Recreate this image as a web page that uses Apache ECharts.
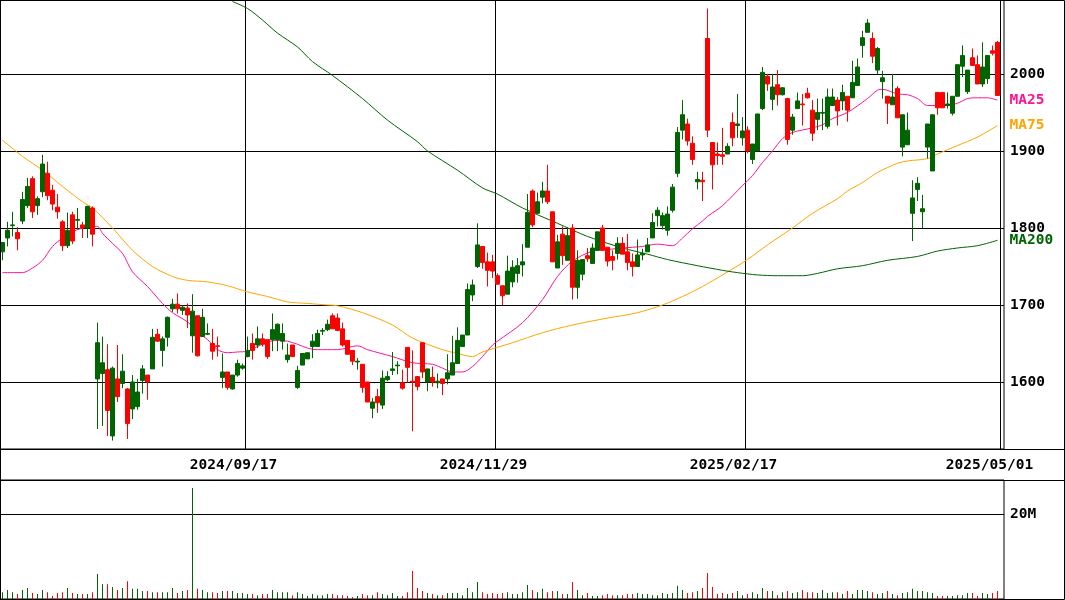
<!DOCTYPE html>
<html>
<head>
<meta charset="utf-8">
<script src="https://cdn.jsdelivr.net/npm/echarts@6/dist/echarts.min.js"></script>
<style>
  html, body { margin: 0; padding: 0; background: #fff; }
  #chart { width: 1065px; height: 600px; }
</style>
</head>
<body>
<div id="chart"></div>
<script>
// Trading days (Tokyo), one per candle
const dates = [
  "2024/07/05","2024/07/08","2024/07/09","2024/07/10","2024/07/11","2024/07/12","2024/07/16","2024/07/17","2024/07/18","2024/07/19",
  "2024/07/22","2024/07/23","2024/07/24","2024/07/25","2024/07/26","2024/07/29","2024/07/30","2024/07/31","2024/08/01","2024/08/02",
  "2024/08/05","2024/08/06","2024/08/07","2024/08/08","2024/08/09","2024/08/13","2024/08/14","2024/08/15","2024/08/16","2024/08/19",
  "2024/08/20","2024/08/21","2024/08/22","2024/08/23","2024/08/26","2024/08/27","2024/08/28","2024/08/29","2024/08/30","2024/09/02",
  "2024/09/03","2024/09/04","2024/09/05","2024/09/06","2024/09/09","2024/09/10","2024/09/11","2024/09/12","2024/09/13","2024/09/17",
  "2024/09/18","2024/09/19","2024/09/20","2024/09/24","2024/09/25","2024/09/26","2024/09/27","2024/09/30","2024/10/01","2024/10/02",
  "2024/10/03","2024/10/04","2024/10/07","2024/10/08","2024/10/09","2024/10/10","2024/10/11","2024/10/15","2024/10/16","2024/10/17",
  "2024/10/18","2024/10/21","2024/10/22","2024/10/23","2024/10/24","2024/10/25","2024/10/28","2024/10/29","2024/10/30","2024/10/31",
  "2024/11/01","2024/11/05","2024/11/06","2024/11/07","2024/11/08","2024/11/11","2024/11/12","2024/11/13","2024/11/14","2024/11/15",
  "2024/11/18","2024/11/19","2024/11/20","2024/11/21","2024/11/22","2024/11/25","2024/11/26","2024/11/27","2024/11/28","2024/11/29",
  "2024/12/02","2024/12/03","2024/12/04","2024/12/05","2024/12/06","2024/12/09","2024/12/10","2024/12/11","2024/12/12","2024/12/13",
  "2024/12/16","2024/12/17","2024/12/18","2024/12/19","2024/12/20","2024/12/23","2024/12/24","2024/12/25","2024/12/26","2024/12/27",
  "2024/12/30","2025/01/06","2025/01/07","2025/01/08","2025/01/09","2025/01/10","2025/01/14","2025/01/15","2025/01/16","2025/01/17",
  "2025/01/20","2025/01/21","2025/01/22","2025/01/23","2025/01/24","2025/01/27","2025/01/28","2025/01/29","2025/01/30","2025/01/31",
  "2025/02/03","2025/02/04","2025/02/05","2025/02/06","2025/02/07","2025/02/10","2025/02/12","2025/02/13","2025/02/14","2025/02/17",
  "2025/02/18","2025/02/19","2025/02/20","2025/02/21","2025/02/25","2025/02/26","2025/02/27","2025/02/28","2025/03/03","2025/03/04",
  "2025/03/05","2025/03/06","2025/03/07","2025/03/10","2025/03/11","2025/03/12","2025/03/13","2025/03/14","2025/03/17","2025/03/18",
  "2025/03/19","2025/03/21","2025/03/24","2025/03/25","2025/03/26","2025/03/27","2025/03/28","2025/03/31","2025/04/01","2025/04/02",
  "2025/04/03","2025/04/04","2025/04/07","2025/04/08","2025/04/09","2025/04/10","2025/04/11","2025/04/14","2025/04/15","2025/04/16",
  "2025/04/17","2025/04/18","2025/04/21","2025/04/22","2025/04/23","2025/04/24","2025/04/25","2025/04/28","2025/04/30","2025/05/01"
];

const opens = [
  1769,1787,1803,1794,1809,1829,1864,1829,1847,1871,
  1849,1827,1808,1777,1817,1810,1804,1800,1826,1604,
  1611,1616,1530,1604,1598,1591,1565,1568,1602,1609,
  1617,1662,1641,1658,1695,1701,1693,1696,1660,1686,
  1659,1662,1650,1647,1606,1613,1591,1609,1618,1633,
  1650,1648,1656,1655,1655,1655,1653,1629,1648,1593,
  1622,1630,1646,1646,1666,1668,1686,1683,1669,1654,
  1641,1626,1623,1600,1566,1581,1570,1603,1615,1621,
  1599,1645,1601,1607,1651,1600,1606,1599,1604,1604,
  1609,1624,1646,1661,1713,1750,1776,1756,1756,1738,
  1725,1714,1730,1741,1752,1775,1848,1819,1840,1848,
  1821,1748,1792,1758,1800,1723,1740,1764,1754,1771,
  1800,1775,1763,1767,1780,1769,1756,1750,1765,1769,
  1787,1816,1803,1797,1823,1871,1927,1935,1910,1860,
  1862,2046,1911,1896,1895,1896,1937,1933,1917,1927,
  1889,1900,1955,1997,1967,1986,1973,1968,1927,1955,
  1961,1975,1953,1941,1949,1932,1959,1966,1965,1971,
  1969,1985,2037,2054,2046,2005,1990,1971,1960,1981,
  1905,1908,1819,1850,1821,1905,1874,1976,1976,1959,
  1949,1971,2010,1977,2021,2012,1987,1994,2030,2041
];

const closes = [
  1781,1797,1804,1786,1837,1854,1821,1838,1883,1842,
  1831,1821,1777,1797,1783,1811,1800,1828,1792,1651,
  1625,1563,1618,1581,1614,1546,1600,1587,1617,1600,
  1658,1653,1656,1684,1701,1695,1697,1687,1692,1634,
  1684,1663,1640,1646,1613,1593,1609,1624,1621,1641,
  1641,1656,1649,1633,1668,1675,1663,1635,1633,1615,
  1637,1638,1653,1663,1667,1675,1669,1667,1648,1636,
  1627,1627,1593,1574,1574,1573,1605,1607,1617,1622,
  1592,1619,1600,1594,1613,1617,1600,1601,1598,1612,
  1625,1654,1661,1720,1726,1778,1755,1745,1744,1727,
  1712,1744,1749,1751,1756,1820,1804,1834,1848,1834,
  1756,1782,1764,1790,1723,1758,1759,1760,1774,1795,
  1771,1757,1758,1780,1766,1755,1750,1765,1767,1778,
  1807,1823,1816,1818,1853,1924,1947,1913,1889,1863,
  1860,1927,1882,1894,1893,1906,1917,1935,1926,1900,
  1909,1948,2002,1987,1983,1973,1982,1915,1944,1965,
  1960,1969,1923,1950,1950,1970,1970,1952,1976,1953,
  1989,2009,2047,2066,2023,2033,1995,1962,1970,1943,
  1947,1927,1839,1858,1825,1935,1947,1956,1956,1961,
  1971,2012,2024,2005,2011,1987,2009,2024,2027,1972
];

const lows = [
  1758,1776,1789,1771,1805,1826,1813,1817,1840,1836,
  1823,1812,1770,1774,1779,1798,1787,1787,1776,1539,
  1543,1530,1524,1574,1592,1526,1552,1564,1585,1577,
  1617,1652,1620,1646,1691,1689,1687,1670,1638,1633,
  1659,1661,1629,1633,1592,1590,1590,1607,1616,1632,
  1629,1644,1646,1630,1640,1640,1642,1625,1633,1591,
  1622,1630,1631,1646,1661,1666,1669,1666,1646,1636,
  1622,1616,1586,1574,1553,1560,1565,1601,1609,1610,
  1590,1599,1536,1589,1605,1588,1594,1592,1583,1597,
  1609,1624,1646,1661,1705,1748,1747,1724,1735,1727,
  1700,1714,1723,1729,1737,1775,1801,1819,1832,1831,
  1756,1748,1752,1758,1707,1708,1732,1756,1754,1771,
  1771,1750,1745,1759,1766,1745,1737,1750,1758,1769,
  1787,1802,1798,1790,1820,1866,1915,1907,1882,1850,
  1835,1918,1850,1882,1882,1896,1906,1917,1907,1897,
  1883,1900,1953,1978,1953,1959,1972,1908,1921,1955,
  1933,1968,1913,1927,1927,1929,1959,1933,1953,1938,
  1969,1985,2021,2054,2014,2000,1968,1935,1960,1943,
  1893,1908,1783,1835,1800,1890,1874,1947,1956,1955,
  1946,1971,1996,1974,2011,1987,1983,1987,2024,1972
];

const highs = [
  1782,1808,1821,1801,1847,1865,1867,1841,1895,1886,
  1856,1844,1810,1820,1821,1826,1808,1829,1828,1677,
  1659,1649,1620,1648,1636,1592,1609,1604,1622,1609,
  1669,1669,1659,1685,1708,1715,1700,1702,1714,1686,
  1695,1676,1669,1659,1637,1613,1609,1629,1624,1659,
  1663,1672,1663,1655,1689,1676,1676,1650,1648,1621,
  1637,1638,1662,1668,1670,1681,1689,1689,1677,1654,
  1641,1631,1623,1600,1579,1591,1615,1614,1639,1627,
  1616,1645,1641,1607,1651,1617,1620,1611,1604,1636,
  1660,1671,1661,1728,1733,1806,1776,1768,1765,1741,
  1725,1764,1758,1761,1779,1844,1850,1846,1860,1882,
  1821,1791,1802,1801,1805,1771,1759,1774,1780,1795,
  1804,1775,1771,1788,1788,1792,1767,1785,1773,1787,
  1819,1827,1820,1828,1857,1931,1966,1942,1919,1873,
  1873,2085,1911,1911,1930,1910,1950,1974,1944,1932,
  1909,1948,2009,2000,2000,2005,1983,1969,1948,1976,
  1974,1982,1966,1968,1968,1981,1981,1970,1986,1971,
  2017,2020,2056,2071,2054,2035,2004,1971,2000,1984,
  1947,1950,1862,1866,1843,1935,1947,1976,1976,1976,
  1971,2012,2037,2005,2033,2024,2041,2024,2037,2043
];

// Volume in millions of shares
const volumes = [
  1.6,2.1,1.6,1.2,2.1,2.6,1.4,1.2,2.1,1.6,
  0.7,1.4,1.6,2.6,1.4,1.2,1.2,1.2,1.6,5.9,
  3.5,3.5,2.8,2.1,2.6,4.2,2.4,2.4,1.9,1.9,
  1.6,1.6,1.6,1.6,2.6,1.4,1.9,2.1,26.1,2.4,
  2.1,1.6,1.6,1.4,1.9,1.9,1.9,1.4,1.4,1.2,
  1.2,0.9,1.2,1.2,2.1,1.6,1.6,1.6,0.9,1.6,
  1.2,0.7,1.2,0.9,0.9,1.2,1.2,0.9,0.9,0.7,
  0.5,0.7,1.2,0.9,0.9,1.6,1.2,0.9,1.4,0.7,
  0.7,1.6,6.6,2.6,1.9,1.4,1.2,0.9,0.9,1.4,
  1.4,1.4,0.9,2.6,1.6,4.0,1.6,1.2,1.4,1.2,
  1.4,1.6,1.2,1.2,1.6,3.3,2.1,1.6,2.4,1.6,
  1.9,1.9,1.2,1.2,4.0,2.1,0.9,1.4,0.7,0.7,
  0.9,1.2,0.9,0.9,0.9,1.2,1.2,1.4,1.2,1.2,
  0.9,0.9,1.4,1.2,1.4,3.1,2.1,1.4,1.6,1.9,
  2.6,6.1,2.8,1.2,1.4,1.2,1.4,1.9,0.9,1.2,
  1.6,1.2,2.6,1.9,1.9,0.9,1.6,1.9,1.4,1.6,
  2.1,1.6,1.6,1.4,2.1,1.4,1.6,1.6,1.2,1.9,
  1.2,2.1,2.1,1.9,1.6,1.2,1.4,1.9,1.2,0.9,
  1.4,1.6,2.4,1.9,1.9,1.6,1.4,0.7,0.7,0.7,
  0.7,0.9,0.9,1.4,1.4,0.7,1.4,1.2,1.4,1.9
];

// Moving averages: [candle index, price]
const ma25 = [
  [0,1742],[4,1742],[6,1748],[8,1758],[10,1776],[12,1787],[14,1795],[16,1800],[18,1802],[19,1802],
  [20,1793],[22,1780],[24,1767],[26,1743],[29,1724],[32,1702],[34,1690],[37,1678],[39,1665],[41,1655],
  [43,1642],[45,1638],[47,1639],[49,1640],[51,1646],[53,1652],[55,1654],[57,1653],[59,1649],[61,1644],
  [63,1642],[67,1642],[71,1647],[73,1642],[78,1633],[82,1625],[86,1623],[88,1618],[90,1613],[92,1613],
  [94,1620],[96,1633],[98,1648],[99,1653],[104,1677],[108,1707],[111,1737],[114,1757],[118,1770],[121,1772],
  [124,1774],[128,1776],[131,1779],[134,1777],[136,1787],[138,1799],[140,1809],[141,1815],[144,1829],[148,1855],
  [150,1868],[152,1885],[154,1900],[156,1916],[158,1924],[162,1930],[164,1934],[166,1942],[169,1950],[173,1968],
  [175,1979],[176,1980],[179,1974],[181,1973],[183,1968],[185,1959],[189,1959],[191,1962],[193,1968],[195,1969],
  [197,1969],[199,1966]
];
const ma75 = [
  [0,1914],[4,1893],[8,1875],[12,1854],[16,1834],[18,1826],[22,1800],[26,1771],[30,1750],[34,1737],
  [37,1732],[41,1730],[45,1725],[49,1717],[53,1711],[57,1704],[61,1702],[65,1700],[67,1699],[72,1690],
  [78,1674],[82,1657],[88,1642],[91,1637],[94,1633],[96,1639],[99,1645],[102,1651],[108,1664],[114,1674],
  [121,1683],[127,1690],[132,1700],[136,1711],[140,1724],[144,1739],[149,1759],[153,1778],[158,1800],[162,1819],
  [167,1838],[169,1848],[172,1859],[175,1872],[179,1884],[181,1887],[185,1890],[187,1896],[191,1907],[195,1918],
  [199,1933]
];
const ma200 = [
  [46,2094],[49,2085],[52,2070],[55,2053],[59,2035],[62,2016],[66,1998],[72,1968],[77,1940],[83,1912],
  [85,1900],[91,1875],[96,1852],[99,1844],[104,1826],[111,1806],[117,1789],[124,1774],[129,1766],[133,1759],
  [139,1751],[144,1745],[147,1742],[151,1739],[155,1738],[160,1738],[163,1741],[167,1747],[172,1751],[177,1758],
  [183,1763],[187,1770],[191,1774],[195,1777],[199,1784]
];

// Dates labelled under the price panel
const dateTicks = ["2024/09/17", "2024/11/29", "2025/02/17", "2025/05/01"];

const UP = '#006400';
const DOWN = '#ff0000';
const MA_COLORS = { ma25: '#ff1493', ma75: '#ffa500', ma200: '#006400' };
const FONT = { fontFamily: 'DejaVu Sans Mono', fontSize: 14.5, fontWeight: 'bold' };

const candles = opens.map((o, i) => [o, closes[i], lows[i], highs[i]]);
const volBars = volumes.map((v, i) => ({
  value: v,
  itemStyle: { color: closes[i] >= opens[i] ? UP : DOWN }
}));

const PRICE_MIN = 1513, PRICE_MAX = 2096;
const VOL_MAX = 28;

function maSeries(name, data, color) {
  return {
    type: 'line', name: name, data: data,
    xAxisIndex: 0, yAxisIndex: 0,
    symbol: 'none', smooth: 0.3, z: 3,
    lineStyle: { color: color, width: 1 },
    endLabel: {
      show: true, formatter: name, color: color, distance: 12,
      fontFamily: FONT.fontFamily, fontSize: FONT.fontSize, fontWeight: FONT.fontWeight
    }
  };
}

const chart = echarts.init(document.getElementById('chart'), null, { renderer: 'canvas' });
chart.setOption({
  animation: false,
  backgroundColor: '#fff',
  grid: [
    { left: 0, top: 0, width: 1000, height: 449 },
    { left: 0, top: 0, width: 1004, height: 449, show: true, borderColor: '#000', borderWidth: 1 },
    { left: 0, top: 480, width: 1000, height: 119 },
    { left: 0, top: 480, width: 1004, height: 119, show: true, borderColor: '#000', borderWidth: 1 }
  ],
  xAxis: [
    {
      type: 'category', gridIndex: 0, data: dates, boundaryGap: true,
      axisLine: { show: false }, axisTick: { show: false },
      splitLine: {
        show: true,
        interval: (i) => dateTicks.slice(0, 3).includes(dates[i]),
        lineStyle: { color: '#000', width: 1 }
      },
      axisLabel: {
        interval: (i) => dateTicks.includes(dates[i]),
        margin: 9, color: '#000',
        fontFamily: FONT.fontFamily, fontSize: FONT.fontSize, fontWeight: FONT.fontWeight,
        formatter: (v) => v === dateTicks[dateTicks.length - 1] ? '{b|' + v + '}' : '{a|' + v + '}',
        rich: {
          a: { padding: [0, 28, 0, 0], color: '#000', fontFamily: FONT.fontFamily, fontSize: FONT.fontSize, fontWeight: FONT.fontWeight },
          b: { padding: [0, 16, 0, 0], color: '#000', fontFamily: FONT.fontFamily, fontSize: FONT.fontSize, fontWeight: FONT.fontWeight }
        }
      }
    },
    {
      type: 'category', gridIndex: 2, data: dates, boundaryGap: true,
      axisLine: { show: false }, axisTick: { show: false }, axisLabel: { show: false },
      splitLine: { show: false }
    },
    { type: 'value', gridIndex: 1, min: 0, max: 1, show: false },
    { type: 'value', gridIndex: 3, min: 0, max: 1, show: false }
  ],
  yAxis: [
    { type: 'value', gridIndex: 0, min: PRICE_MIN, max: PRICE_MAX, show: false, splitLine: { show: false } },
    { type: 'value', gridIndex: 2, min: 0, max: VOL_MAX, show: false, splitLine: { show: false } },
    {
      type: 'value', gridIndex: 1, position: 'right', min: PRICE_MIN, max: PRICE_MAX,
      axisLine: { show: false }, axisTick: { show: false },
      splitLine: { show: true, lineStyle: { color: '#000', width: 1 } },
      axisLabel: {
        margin: 6, color: '#000', showMinLabel: false, showMaxLabel: false,
        fontFamily: FONT.fontFamily, fontSize: FONT.fontSize, fontWeight: FONT.fontWeight,
        formatter: (v) => (v % 100 === 0 ? String(v) : '')
      }
    },
    {
      type: 'value', gridIndex: 3, position: 'right', min: 0, max: VOL_MAX, interval: 20,
      axisLine: { show: false }, axisTick: { show: false },
      splitLine: { show: true, lineStyle: { color: '#000', width: 1 } },
      axisLabel: {
        margin: 6, color: '#000', showMinLabel: false, showMaxLabel: false,
        fontFamily: FONT.fontFamily, fontSize: FONT.fontSize, fontWeight: FONT.fontWeight,
        formatter: (v) => (v === 20 ? '20M' : '')
      }
    }
  ],
  series: [
    {
      type: 'candlestick', name: 'price', data: candles,
      xAxisIndex: 0, yAxisIndex: 0, barWidth: 4, z: 4,
      itemStyle: { color: UP, color0: DOWN, borderColor: UP, borderColor0: DOWN, borderWidth: 1 }
    },
    maSeries('MA25', ma25, MA_COLORS.ma25),
    maSeries('MA75', ma75, MA_COLORS.ma75),
    maSeries('MA200', ma200, MA_COLORS.ma200),
    {
      type: 'bar', name: 'volume', data: volBars,
      xAxisIndex: 1, yAxisIndex: 1, barWidth: 1
    }
  ],
  graphic: [
    { type: 'rect', silent: true, z: 100, shape: { x: 0.5, y: 0.5, width: 1064, height: 599 }, style: { fill: 'none', stroke: '#000', lineWidth: 1 } },
    { type: 'line', silent: true, z: 100, shape: { x1: 0, y1: 449.5, x2: 1065, y2: 449.5 }, style: { stroke: '#000', lineWidth: 1 } },
    { type: 'line', silent: true, z: 100, shape: { x1: 0, y1: 480.5, x2: 1065, y2: 480.5 }, style: { stroke: '#000', lineWidth: 1 } }
  ]
});
</script>
</body>
</html>
